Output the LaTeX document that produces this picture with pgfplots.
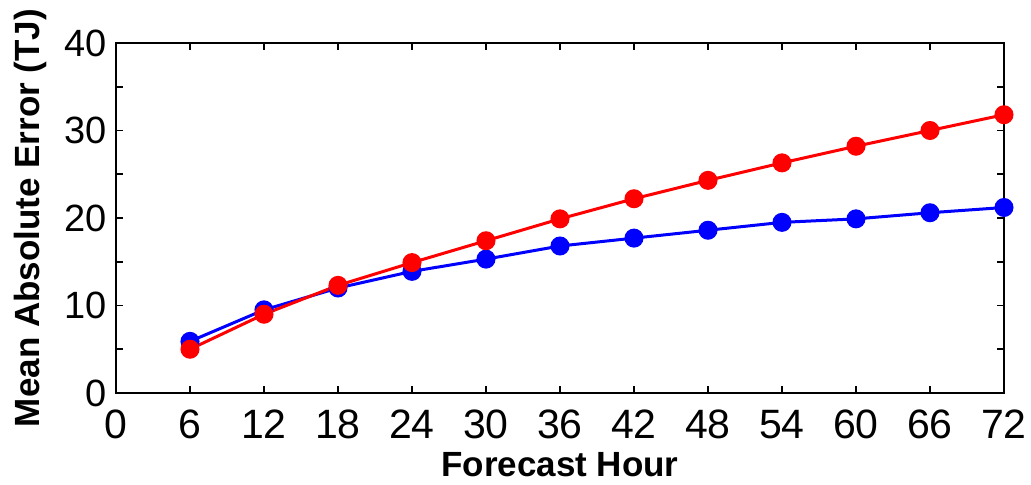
\documentclass[border=0pt]{standalone}
\usepackage{fontspec}
\setmainfont{Liberation Sans}
\usepackage{pgfplots}
\pgfplotsset{compat=1.18}
\begin{document}
\begin{tikzpicture}
\useasboundingbox (-58pt,-46pt) rectangle (457.5pt,196.5pt);
\begin{axis}[
  at={(0,0)}, anchor=south west,
  scale only axis, width=444pt, height=175pt,
  xmin=0, xmax=72, ymin=0, ymax=40,
  xtick={0,6,...,72},
  ytick={0,5,...,40},
  yticklabels={0,,10,,20,,30,,40},
  tick align=inside,
  major tick length=3.5pt,
  axis line style={line width=1pt},
  every tick/.style={black, line width=0.8pt},
  yticklabel style={font=\fontsize{19}{19}\selectfont, xshift=-1pt},
  xticklabel style={font=\fontsize{20.5}{20.5}\selectfont, yshift=-5pt},
  /pgf/number format/assume math mode=true,
  xlabel={\bfseries Forecast Hour},
  ylabel={\bfseries Mean Absolute Error (TJ)},
  label style={font=\fontsize{17.5}{17.5}\selectfont\bfseries},
  xlabel style={at={(axis description cs:0.5,0)}, anchor=base, yshift=-42pt},
  ylabel style={at={(axis description cs:-0.0867,0.5)}, anchor=base},
  clip=false,
]
\addplot[blue, line width=1.5pt, mark=*, mark size=4pt, mark options={solid, fill=blue}]
coordinates {(6,5.9) (12,9.5) (18,12.0) (24,13.9) (30,15.3) (36,16.8) (42,17.7) (48,18.6) (54,19.5) (60,19.9) (66,20.6) (72,21.2)};
\addplot[red, line width=1.5pt, mark=*, mark size=4pt, mark options={solid, fill=red}]
coordinates {(6,5.0) (12,9.0) (18,12.3) (24,14.9) (30,17.4) (36,19.9) (42,22.2) (48,24.3) (54,26.3) (60,28.2) (66,30.0) (72,31.8)};
\end{axis}
\end{tikzpicture}
\end{document}
